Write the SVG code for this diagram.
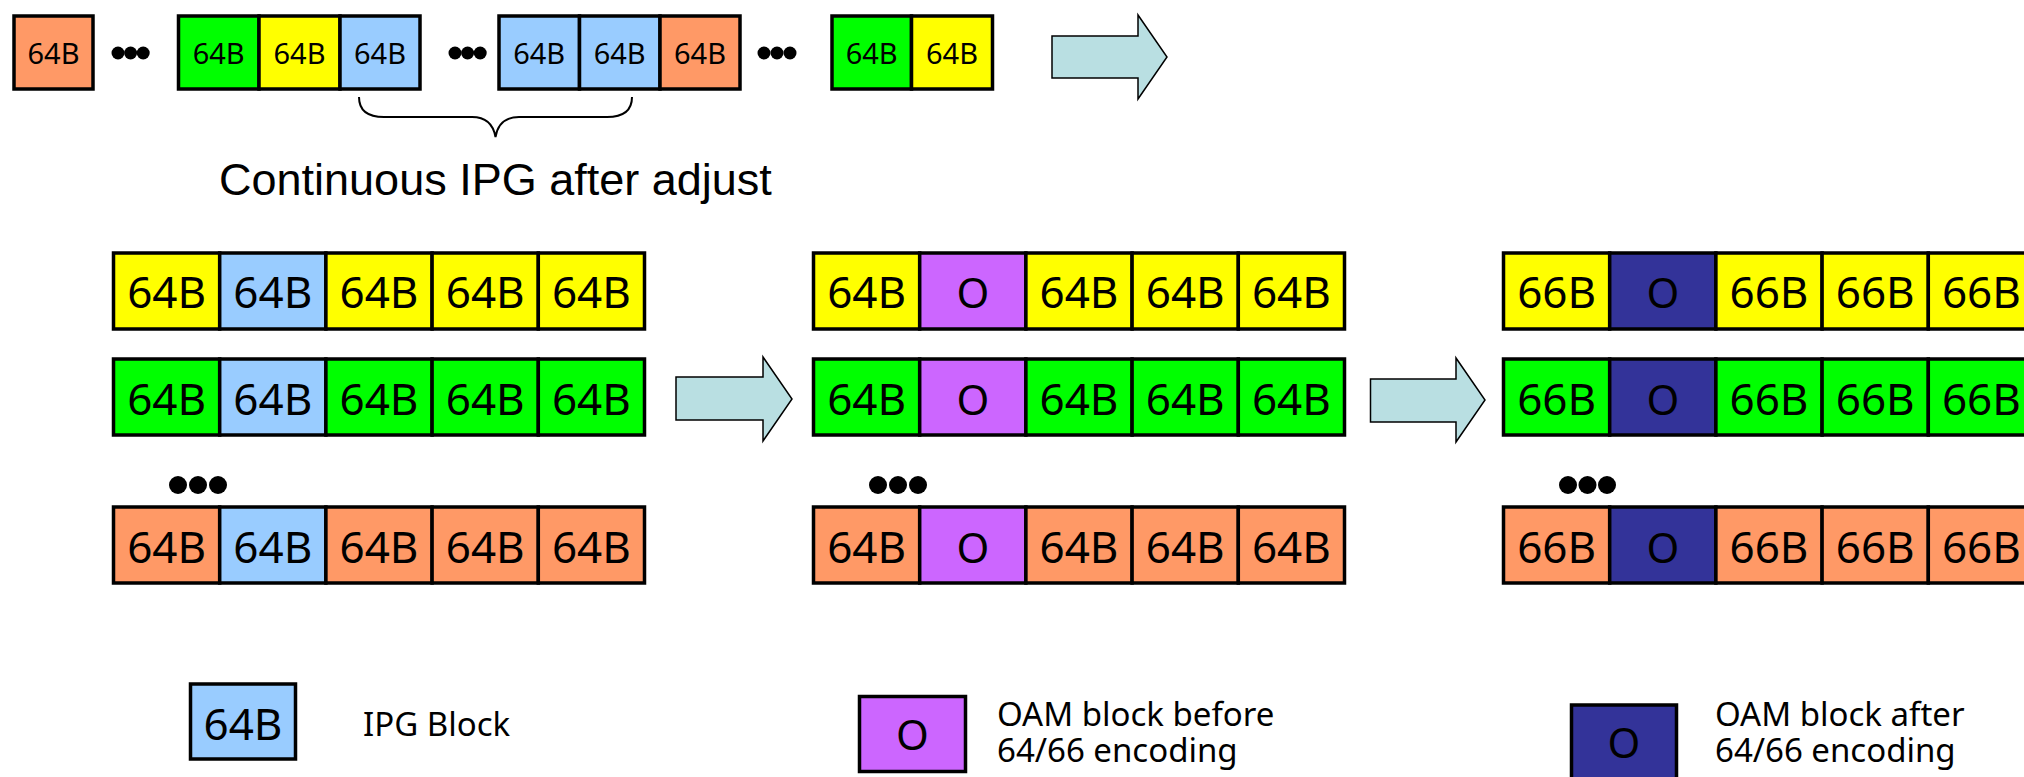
<svg xmlns="http://www.w3.org/2000/svg" width="2024" height="777" viewBox="0 0 2024 777">
<style>
.c{stroke:#000;stroke-width:3.5}
.or{fill:#FF9966}.gr{fill:#00FF00}.ye{fill:#FFFF00}.bl{fill:#99CCFF}.pu{fill:#CC66FF}.db{fill:#333399}
.t{font-family:"Noto Sans","Open Sans",sans-serif;fill:#000;text-anchor:middle}
.s{font-size:29px}.m{font-size:44px}.o{font-size:42px}
.lg{font-family:"Noto Sans","Open Sans",sans-serif;fill:#000;font-size:33px}
.arr{fill:#B9DFE2;stroke:#000;stroke-width:1.5}
.dot{fill:#000}
</style>
<rect width="2024" height="777" fill="#fff"/>

<g id="top-row">
  <g id="t1"><rect class="c or" x="14" y="16" width="79" height="73"/><text class="t s" x="53.5" y="64">64B</text></g>
  <g id="dots1" class="dot"><circle cx="118" cy="53" r="6.5"/><circle cx="130.6" cy="53" r="6.5"/><circle cx="143.2" cy="53" r="6.5"/></g>
  <g id="t2">
    <rect class="c gr" x="178.5" y="16" width="80.5" height="73"/><text class="t s" x="218.7" y="64">64B</text>
    <rect class="c ye" x="259" y="16" width="81" height="73"/><text class="t s" x="299.5" y="64">64B</text>
    <rect class="c bl" x="340" y="16" width="80" height="73"/><text class="t s" x="380" y="64">64B</text>
  </g>
  <g id="dots2" class="dot"><circle cx="455" cy="53" r="6.5"/><circle cx="467.6" cy="53" r="6.5"/><circle cx="480.2" cy="53" r="6.5"/></g>
  <g id="t3">
    <rect class="c bl" x="499" y="16" width="80.5" height="73"/><text class="t s" x="539.2" y="64">64B</text>
    <rect class="c bl" x="579.5" y="16" width="80.5" height="73"/><text class="t s" x="619.7" y="64">64B</text>
    <rect class="c or" x="660" y="16" width="80" height="73"/><text class="t s" x="700" y="64">64B</text>
  </g>
  <g id="dots3" class="dot"><circle cx="764" cy="53" r="6.5"/><circle cx="777" cy="53" r="6.5"/><circle cx="790" cy="53" r="6.5"/></g>
  <g id="t4">
    <rect class="c gr" x="832" y="16" width="79.5" height="73"/><text class="t s" x="871.7" y="64">64B</text>
    <rect class="c ye" x="911.5" y="16" width="81" height="73"/><text class="t s" x="952" y="64">64B</text>
  </g>
  <path id="brace" d="M359,97 Q359,117 384,117 L472,117 Q492,117 495.5,137 Q499,117 519,117 L607,117 Q632,117 632,97" fill="none" stroke="#000" stroke-width="2"/>
  <text id="brace-label" x="219" y="195" font-family="Liberation Sans, Arial, sans-serif" font-size="45" fill="#000">Continuous IPG after adjust</text>
</g>

<g id="connectors">
  <polygon class="arr" points="1052,36 1138,36 1138,15 1167,57 1138,99 1138,78 1052,78"/>
  <polygon class="arr" points="676,377 763,377 763,357 792,399 763,441 763,420 676,420"/>
  <polygon class="arr" points="1370.5,379 1456,379 1456,358 1485,400 1456,442 1456,422 1370.5,422"/>
</g>

<g id="group-left">
  <g id="L1">
    <rect class="c ye" x="113.5" y="253" width="106.2" height="76"/>
    <rect class="c bl" x="219.7" y="253" width="106.2" height="76"/>
    <rect class="c ye" x="325.9" y="253" width="106.2" height="76"/>
    <rect class="c ye" x="432.1" y="253" width="106.2" height="76"/>
    <rect class="c ye" x="538.3" y="253" width="106.2" height="76"/>
    <text class="t m" x="166.6" y="308">64B</text><text class="t m" x="272.8" y="308">64B</text><text class="t m" x="379" y="308">64B</text><text class="t m" x="485.2" y="308">64B</text><text class="t m" x="591.4" y="308">64B</text>
  </g>
  <g id="L2">
    <rect class="c gr" x="113.5" y="359" width="106.2" height="76"/>
    <rect class="c bl" x="219.7" y="359" width="106.2" height="76"/>
    <rect class="c gr" x="325.9" y="359" width="106.2" height="76"/>
    <rect class="c gr" x="432.1" y="359" width="106.2" height="76"/>
    <rect class="c gr" x="538.3" y="359" width="106.2" height="76"/>
    <text class="t m" x="166.6" y="415">64B</text><text class="t m" x="272.8" y="415">64B</text><text class="t m" x="379" y="415">64B</text><text class="t m" x="485.2" y="415">64B</text><text class="t m" x="591.4" y="415">64B</text>
  </g>
  <g id="Ldots" class="dot"><circle cx="178" cy="485" r="9"/><circle cx="198" cy="485" r="9"/><circle cx="218" cy="485" r="9"/></g>
  <g id="L3">
    <rect class="c or" x="113.5" y="507" width="106.2" height="76"/>
    <rect class="c bl" x="219.7" y="507" width="106.2" height="76"/>
    <rect class="c or" x="325.9" y="507" width="106.2" height="76"/>
    <rect class="c or" x="432.1" y="507" width="106.2" height="76"/>
    <rect class="c or" x="538.3" y="507" width="106.2" height="76"/>
    <text class="t m" x="166.6" y="563">64B</text><text class="t m" x="272.8" y="563">64B</text><text class="t m" x="379" y="563">64B</text><text class="t m" x="485.2" y="563">64B</text><text class="t m" x="591.4" y="563">64B</text>
  </g>
</g>

<g id="group-mid">
  <g id="M1">
    <rect class="c ye" x="813.5" y="253" width="106.2" height="76"/>
    <rect class="c pu" x="919.7" y="253" width="106.2" height="76"/>
    <rect class="c ye" x="1025.9" y="253" width="106.2" height="76"/>
    <rect class="c ye" x="1132.1" y="253" width="106.2" height="76"/>
    <rect class="c ye" x="1238.3" y="253" width="106.2" height="76"/>
    <text class="t m" x="866.6" y="308">64B</text><text class="t o" x="972.8" y="308">O</text><text class="t m" x="1079" y="308">64B</text><text class="t m" x="1185.2" y="308">64B</text><text class="t m" x="1291.4" y="308">64B</text>
  </g>
  <g id="M2">
    <rect class="c gr" x="813.5" y="359" width="106.2" height="76"/>
    <rect class="c pu" x="919.7" y="359" width="106.2" height="76"/>
    <rect class="c gr" x="1025.9" y="359" width="106.2" height="76"/>
    <rect class="c gr" x="1132.1" y="359" width="106.2" height="76"/>
    <rect class="c gr" x="1238.3" y="359" width="106.2" height="76"/>
    <text class="t m" x="866.6" y="415">64B</text><text class="t o" x="972.8" y="415">O</text><text class="t m" x="1079" y="415">64B</text><text class="t m" x="1185.2" y="415">64B</text><text class="t m" x="1291.4" y="415">64B</text>
  </g>
  <g id="Mdots" class="dot"><circle cx="878" cy="485" r="9"/><circle cx="898" cy="485" r="9"/><circle cx="918" cy="485" r="9"/></g>
  <g id="M3">
    <rect class="c or" x="813.5" y="507" width="106.2" height="76"/>
    <rect class="c pu" x="919.7" y="507" width="106.2" height="76"/>
    <rect class="c or" x="1025.9" y="507" width="106.2" height="76"/>
    <rect class="c or" x="1132.1" y="507" width="106.2" height="76"/>
    <rect class="c or" x="1238.3" y="507" width="106.2" height="76"/>
    <text class="t m" x="866.6" y="563">64B</text><text class="t o" x="972.8" y="563">O</text><text class="t m" x="1079" y="563">64B</text><text class="t m" x="1185.2" y="563">64B</text><text class="t m" x="1291.4" y="563">64B</text>
  </g>
</g>

<g id="group-right">
  <g id="R1">
    <rect class="c ye" x="1503.5" y="253" width="106.2" height="76"/>
    <rect class="c db" x="1609.7" y="253" width="106.2" height="76"/>
    <rect class="c ye" x="1715.9" y="253" width="106.2" height="76"/>
    <rect class="c ye" x="1822.1" y="253" width="106.2" height="76"/>
    <rect class="c ye" x="1928.3" y="253" width="106.2" height="76"/>
    <text class="t m" x="1556.6" y="308">66B</text><text class="t o" x="1662.8" y="308">O</text><text class="t m" x="1769" y="308">66B</text><text class="t m" x="1875.2" y="308">66B</text><text class="t m" x="1981.4" y="308">66B</text>
  </g>
  <g id="R2">
    <rect class="c gr" x="1503.5" y="359" width="106.2" height="76"/>
    <rect class="c db" x="1609.7" y="359" width="106.2" height="76"/>
    <rect class="c gr" x="1715.9" y="359" width="106.2" height="76"/>
    <rect class="c gr" x="1822.1" y="359" width="106.2" height="76"/>
    <rect class="c gr" x="1928.3" y="359" width="106.2" height="76"/>
    <text class="t m" x="1556.6" y="415">66B</text><text class="t o" x="1662.8" y="415">O</text><text class="t m" x="1769" y="415">66B</text><text class="t m" x="1875.2" y="415">66B</text><text class="t m" x="1981.4" y="415">66B</text>
  </g>
  <g id="Rdots" class="dot"><circle cx="1568" cy="485" r="9"/><circle cx="1587.5" cy="485" r="9"/><circle cx="1607" cy="485" r="9"/></g>
  <g id="R3">
    <rect class="c or" x="1503.5" y="507" width="106.2" height="76"/>
    <rect class="c db" x="1609.7" y="507" width="106.2" height="76"/>
    <rect class="c or" x="1715.9" y="507" width="106.2" height="76"/>
    <rect class="c or" x="1822.1" y="507" width="106.2" height="76"/>
    <rect class="c or" x="1928.3" y="507" width="106.2" height="76"/>
    <text class="t m" x="1556.6" y="563">66B</text><text class="t o" x="1662.8" y="563">O</text><text class="t m" x="1769" y="563">66B</text><text class="t m" x="1875.2" y="563">66B</text><text class="t m" x="1981.4" y="563">66B</text>
  </g>
</g>

<g id="legend-ipg">
  <rect class="c bl" x="190.5" y="684" width="105" height="75"/>
  <text class="t m" x="243" y="740">64B</text>
  <text class="lg" x="363" y="736">IPG Block</text>
</g>
<g id="legend-oam-before">
  <rect class="c pu" x="859.5" y="696.5" width="106" height="75"/>
  <text class="t o" x="912.5" y="750">O</text>
  <text class="lg" x="997" y="726">OAM block before<tspan x="997" dy="36">64/66 encoding</tspan></text>
</g>
<g id="legend-oam-after">
  <rect class="c db" x="1571.5" y="705" width="105" height="80"/>
  <text class="t o" x="1624" y="758">O</text>
  <text class="lg" x="1715" y="726">OAM block after<tspan x="1715" dy="36">64/66 encoding</tspan></text>
</g>
</svg>
